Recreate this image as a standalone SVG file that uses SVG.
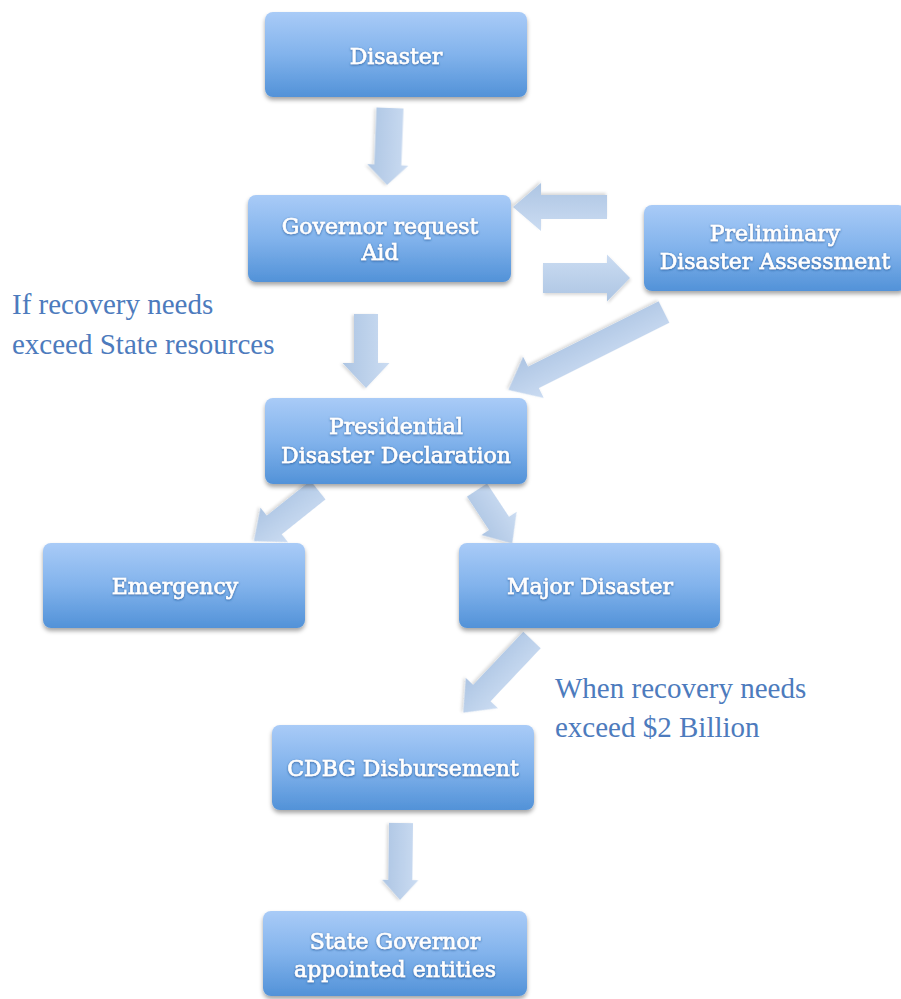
<svg xmlns="http://www.w3.org/2000/svg" width="901" height="999" viewBox="0 0 901 999">
<defs>
<linearGradient id="boxg" x1="0" y1="0" x2="0" y2="1">
<stop offset="0" stop-color="#a9cbf7"/>
<stop offset="0.5" stop-color="#82b3ec"/>
<stop offset="1" stop-color="#5292d8"/>
</linearGradient>
<linearGradient id="arrg" x1="0" y1="0" x2="0" y2="1">
<stop offset="0" stop-color="#cbdcf2"/>
<stop offset="1" stop-color="#adc5e3"/>
</linearGradient>
<filter id="sh" x="-10%" y="-10%" width="120%" height="130%">
<feDropShadow dx="0" dy="3" stdDeviation="2.2" flood-color="#000" flood-opacity="0.35"/>
</filter>
<filter id="ash" x="-20%" y="-20%" width="140%" height="140%">
<feDropShadow dx="1" dy="2" stdDeviation="1.5" flood-color="#000" flood-opacity="0.15"/>
</filter>
<filter id="tsh" x="-5%" y="-20%" width="110%" height="140%">
<feDropShadow dx="0" dy="0.8" stdDeviation="0.9" flood-color="#1d4f8f" flood-opacity="0.8"/>
</filter>
</defs>
<style>
.box{fill:url(#boxg);filter:url(#sh)}
.lbl{font-family:"DejaVu Serif","Liberation Serif",serif;font-size:22px;fill:#ffffff;stroke:#ffffff;stroke-width:0.6;text-anchor:middle;filter:url(#tsh)}
.arr{fill:url(#arrg);filter:url(#ash)}
.note{font-family:"Liberation Serif","Times New Roman",serif;font-size:29px;fill:#4d7bbd}
</style>

<g id="connectors">
<!-- Disaster -> Governor -->
<path class="arr" transform="translate(390,108) rotate(92.2)" d="M0,-13.5 L57,-13.5 L57,-20.5 L77,0 L57,20.5 L57,13.5 L0,13.5 Z"/>
<!-- Preliminary -> Governor -->
<path class="arr" transform="translate(607,207) rotate(180)" d="M0,-12 L66,-12 L66,-24 L94,0 L66,24 L66,12 L0,12 Z"/>
<!-- Governor -> Preliminary -->
<path class="arr" transform="translate(543,278)" d="M0,-15 L64,-15 L64,-23.5 L87,0 L64,23.5 L64,15 L0,15 Z"/>
<!-- Preliminary -> Presidential -->
<path class="arr" transform="translate(664,312) rotate(153.4)" d="M0,-12 L146,-12 L146,-23 L174,0 L146,23 L146,12 L0,12 Z"/>
<!-- Governor -> Presidential -->
<path class="arr" transform="translate(366,314) rotate(90)" d="M0,-12 L49,-12 L49,-23.5 L74,0 L49,23.5 L49,12 L0,12 Z"/>
<!-- Presidential -> Emergency -->
<path class="arr" transform="translate(318,490) rotate(141.4)" d="M0,-12 L56,-12 L56,-22 L82,0 L56,22 L56,12 L0,12 Z"/>
<!-- Presidential -> Major Disaster -->
<path class="arr" transform="translate(477,490) rotate(56.6)" d="M0,-12 L40,-12 L40,-21 L64,0 L40,21 L40,12 L0,12 Z"/>
<!-- Major Disaster -> CDBG -->
<path class="arr" transform="translate(532,640) rotate(133.4)" d="M0,-12 L73,-12 L73,-22 L100,0 L73,22 L73,12 L0,12 Z"/>
<!-- CDBG -> State Governor -->
<path class="arr" transform="translate(401,823) rotate(90.7)" d="M0,-12 L57,-12 L57,-18 L77,0 L57,18 L57,12 L0,12 Z"/>
</g>

<g id="n-disaster">
<rect class="box" x="265" y="12" width="262" height="85" rx="8"/>
<text class="lbl" x="396" y="64">Disaster</text>
</g>
<g id="n-governor">
<rect class="box" x="248" y="195" width="263" height="87" rx="8"/>
<text class="lbl" x="380" y="234">Governor request</text>
<text class="lbl" x="380" y="260">Aid</text>
</g>
<g id="n-preliminary">
<rect class="box" x="644" y="205" width="262" height="86" rx="8"/>
<text class="lbl" x="775" y="241">Preliminary</text>
<text class="lbl" x="775" y="269">Disaster Assessment</text>
</g>
<g id="n-presidential">
<rect class="box" x="265" y="398" width="262" height="86" rx="8"/>
<text class="lbl" x="396" y="434">Presidential</text>
<text class="lbl" x="396" y="463">Disaster Declaration</text>
</g>
<g id="n-emergency">
<rect class="box" x="43" y="543" width="262" height="85" rx="8"/>
<text class="lbl" x="175" y="594">Emergency</text>
</g>
<g id="n-major">
<rect class="box" x="459" y="543" width="261" height="85" rx="8"/>
<text class="lbl" x="590" y="594">Major Disaster</text>
</g>
<g id="n-cdbg">
<rect class="box" x="272" y="725" width="262" height="85" rx="8"/>
<text class="lbl" x="403" y="776">CDBG Disbursement</text>
</g>
<g id="n-state">
<rect class="box" x="263" y="911" width="264" height="85" rx="8"/>
<text class="lbl" x="395" y="949">State Governor</text>
<text class="lbl" x="395" y="977">appointed entities</text>
</g>

<g id="notes">
<text class="note" x="12" y="314">If recovery needs</text>
<text class="note" x="12" y="354">exceed State resources</text>
<text class="note" x="555" y="698">When recovery needs</text>
<text class="note" x="555" y="737">exceed $2 Billion</text>
</g>
</svg>
